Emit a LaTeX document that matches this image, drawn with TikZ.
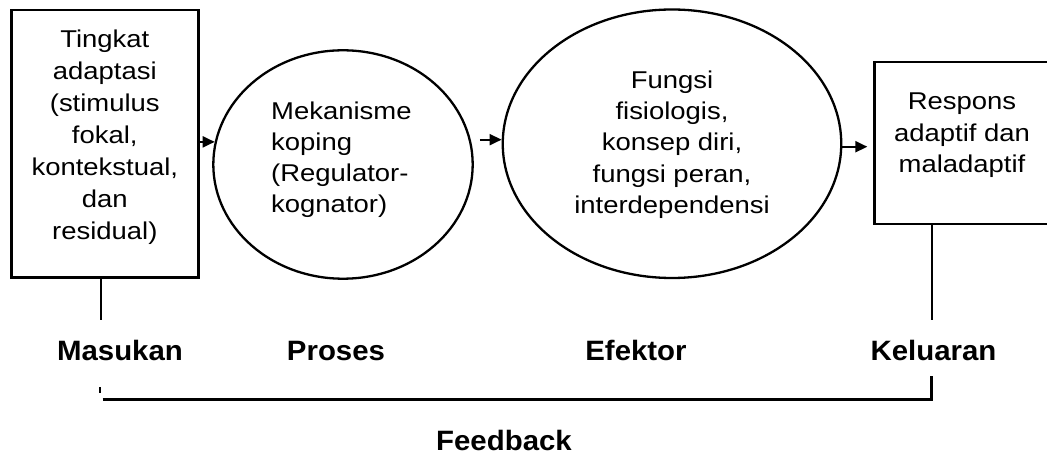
\documentclass[tikz,border=0pt]{standalone}
\usepackage{fontspec}
\setmainfont{Liberation Sans}[FakeStretch=1.13]
\newfontfamily\lblfont{Liberation Sans}[FakeStretch=1.05]
\usetikzlibrary{shapes.geometric,arrows.meta}
\begin{document}
\begin{tikzpicture}[x=1pt,y=-1pt,
  box/.style={draw,line width=2.7pt,rectangle,inner sep=0pt},
  oval/.style={draw,line width=2.3pt,ellipse,inner sep=0pt},
  txt/.style={inner sep=0pt,align=center,font=\fontsize{24.3}{31.3}\selectfont},
  lbl/.style={inner sep=0pt,anchor=base,font=\lblfont\bfseries\fontsize{28}{32}\selectfont},
  link/.style={line width=2pt},
  arr/.style={line width=2pt,-{Triangle[length=12pt,width=11pt]}}]
\useasboundingbox (0,0) rectangle (1047,454);
% shapes
\node[box,minimum width=187pt,minimum height=267.7pt] (b1) at (104.8,143.85) {};
\node[box,minimum width=180pt,minimum height=162pt] (b2) at (964.7,143) {};
\node[oval,minimum width=259.4pt,minimum height=228.4pt] (e1) at (343,164.5) {};
\node[oval,minimum width=338.5pt,minimum height=268.5pt] (e2) at (672,143.75) {};
% texts
\node[txt,anchor=north,font=\fontsize{24.3}{32}\selectfont] (t1) at (104.8,29.3)
  {Tingkat\\adaptasi\\(stimulus\\fokal,\\kontekstual,\\dan\\residual)};
\node[txt,anchor=north west,align=left,font=\fontsize{24.3}{31.1}\selectfont] (t2) at (271,101.5)
  {Mekanisme\\koping\\(Regulator-\\kognator)};
\node[txt,anchor=north] (t3) at (672,70.5)
  {Fungsi\\fisiologis,\\konsep diri,\\fungsi peran,\\interdependensi};
\node[txt,anchor=north,font=\fontsize{24.3}{31.5}\selectfont] (t4) at (962,92.8)
  {Respons\\adaptif dan\\maladaptif};
% labels
\node[lbl] (l1) at (120,360) {Masukan};
\node[lbl] (l2) at (336,360) {Proses};
\node[lbl] (l3) at (636,360) {Efektor};
\node[lbl] (l4) at (933.5,360) {Keluaran};
\node[lbl] (l5) at (504,450) {Feedback};
% arrows
\draw[arr] (b1.east |- e1.170) -- (e1.170);
\draw[arr] ([xshift=9pt]e1.11) -- (e1.11 -| e2.west);
\draw[arr,shorten >=6pt] (e2.359) -- (e2.359 -| b2.west);
% lines
\coordinate (k1) at (100.7,320);
\coordinate (k2) at (931.5,320);
\draw[link] (k1 |- b1.south) -- (k1);
\draw[link] (k2 |- b2.south) -- (k2);
\coordinate (f1) at (100.3,387);
\coordinate (f2) at (100.3,393);
\draw[link] (f1) -- (f2);
\coordinate (g1) at (102.5,399.5);
\coordinate (g2) at (931.5,399.5);
\coordinate (g3) at (931.5,376);
\draw[link,line width=2.5pt] (g1) -- (g2) -- (g3);
\end{tikzpicture}
\end{document}
